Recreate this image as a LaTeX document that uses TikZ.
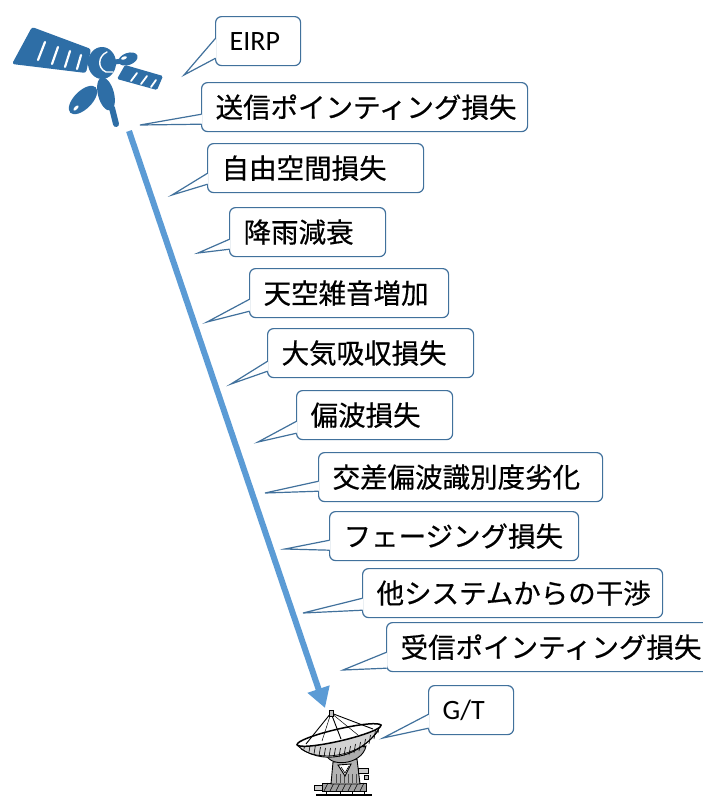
\documentclass[tikz,border=0pt]{standalone}
\usepackage{fontspec}
\setmainfont{Carlito}
\newfontfamily\jp{Noto Sans CJK JP}[FakeBold=0.5]
\usetikzlibrary{arrows.meta}
\definecolor{boxline}{RGB}{65,113,156}
\definecolor{linkblue}{RGB}{91,155,213}
\definecolor{satblue}{RGB}{46,110,166}
\tikzset{
  cbox/.style={draw=boxline, line width=1.2pt, rounded corners=6pt, fill=white,
    minimum height=49pt, inner xsep=14pt, inner ysep=0pt, align=left,
    font=\fontsize{28}{32}\selectfont},
  jbox/.style={cbox, font=\fontsize{27.5}{32}\selectfont\jp},
  ctail/.style={draw=boxline, line width=1.2pt, line join=miter},
  streak/.style={white, line width=2.2pt, line cap=round},
  dishline/.style={draw=black, line width=0.9pt},
}
% callout: style, name, left, top, right, text, tip, upper/lower attach heights above the bottom
\newcommand\callout[9]{%
  \pgfmathsetmacro\cbw{#5-#3-28}%
  \node[#1, text width=\cbw pt, anchor=north west] (#2) at (#3,#4) {#6};
  \coordinate (#2tip) at (#7);
  \fill[white] ([xshift=1.2pt,yshift=#8pt]#2.south west) -- (#2tip)
     -- ([xshift=1.2pt,yshift=#9pt]#2.south west) -- cycle;
  \draw[ctail] ([xshift=0.6pt,yshift=#8pt]#2.south west) -- (#2tip)
     -- ([xshift=0.6pt,yshift=#9pt]#2.south west);
}
\begin{document}
\begin{tikzpicture}[x=1pt,y=-1pt]
\clip (0,0) rectangle (703,798);
\fill[white] (0,0) rectangle (703,798);

% satellite
\begin{scope}[satblue]
  \fill[rounded corners=2.5pt] (32,27) -- (91,49) -- (86,73) -- (12,64) -- cycle;
  \draw[streak] (45,42) -- (38,60);
  \draw[streak] (58,47) -- (52,64);
  \draw[streak] (70,51) -- (65,67);
  \draw[streak] (81,55) -- (77,69);
  \fill[rounded corners=1.5pt] (125,65) -- (163,76) -- (157,90) -- (117,79) -- cycle;
  \draw[streak, line width=1.8pt] (131,81) -- (137,73);
  \draw[streak, line width=1.8pt] (141,84) -- (147,76);
  \draw[streak, line width=1.8pt] (151,87) -- (156,80);
  \draw[line width=5pt] (108,63) -- (122,61);
  \fill[rotate around={20:(128,59)}] (128,59) ellipse [x radius=10, y radius=6];
  \fill[white, rotate around={20:(124,58)}] (124,58) ellipse [x radius=3, y radius=1.5];
  \fill (102,63) ellipse [x radius=14, y radius=16];
  \draw[white, line width=1.4pt, line cap=round] (107,52) .. controls (98,56) and (97,68) .. (106,72) -- (113,72);
  \fill[rotate around={45:(83,100)}] (83,100) ellipse [x radius=18, y radius=9];
  \fill[white, rotate around={45:(76,108)}] (76,108) ellipse [x radius=3.5, y radius=1.5];
  \fill[rotate around={15:(106,94)}] (106,94) ellipse [x radius=8, y radius=17];
  \draw[line width=6pt, line cap=round] (112,108) -- (116,124);
\end{scope}

% receiving antenna
\begin{scope}
  % base frame
  \draw[black, line width=1.4pt] (316,795) -- (372,795);
  \filldraw[fill=gray!75, dishline] (322,783) rectangle (366,791);
  \foreach \x in {324,330,...,364} \draw[black, line width=0.6pt] (\x,791) -- (\x+4,783);
  \filldraw[fill=gray!40, dishline] (314,785) rectangle (322,790);
  \draw[dishline] (340,791) -- (340,795) (352,791) -- (352,795) (326,791) -- (326,795) (364,791) -- (364,795);
  % pedestal
  \filldraw[fill=gray!60, dishline] (333,762) -- (357,759) -- (360,784) -- (331,784) -- cycle;
  \foreach \x in {336,340,...,356} \draw[black!70, line width=0.5pt] (\x,774) -- (\x,783);
  \filldraw[fill=white, dishline] (338,765) -- (351,764) -- (345,776) -- cycle;
  \draw[black, line width=0.6pt] (341,767) -- (345,773) -- (349,766);
  \filldraw[fill=gray!40, dishline] (358,768) rectangle (368,773);
  \filldraw[fill=gray!50, dishline] (364,775) rectangle (368,779);
  % gearbox below the reflector
  \filldraw[fill=gray!65, dishline] (326,752) .. controls (326,768) and (362,766) .. (366,746) -- cycle;
  % reflector back with ribs
  \filldraw[fill=gray!35, dishline] (297,745) .. controls (318,766) and (362,760) .. (381,725) -- cycle;
  \foreach \a/\b in {304/749, 309/752, 314/754, 319/756, 324/757, 329/757, 334/757, 339/757,
                     344/756, 349/755, 354/753, 359/751, 364/748, 369/744, 374/739, 378/733}
    \draw[black, line width=0.6pt] (\a,\b) -- ++(1.5,-9);
  \draw[black, line width=0.7pt] (301,749) .. controls (320,762) and (360,757) .. (378,731);
  \filldraw[fill=white, draw=black, line width=1.5pt, rotate around={13:(339,735)}] (339,735) ellipse [x radius=43, y radius=6];
  % feed support
  \draw[dishline] (331,713) -- (306,744) (331,713) -- (341,739) (331,713) -- (373,729);
  \draw[black, line width=0.5pt] (331,713) -- (322,741) (331,713) -- (358,735);
  \filldraw[fill=gray!50, dishline] (329,710) rectangle (333,716);
\end{scope}

% signal path
\coordinate (sat) at (129,131);
\coordinate (gs) at (325,708);
\draw[linkblue, line width=6pt, -{Triangle[width=22pt,length=20pt]}] (sat) -- (gs);

% link budget terms
\callout{cbox}{eirp}{215}{16}{300}{EIRP}{184,75}{28}{8}
\callout{jbox}{txpt}{201}{82}{527}{送信ポインティング損失}{140,125}{18}{8}
\callout{jbox}{fspl}{207}{143}{423}{自由空間損失}{172,195}{20}{9}
\callout{jbox}{rain}{229}{207}{385}{降雨減衰}{198,253}{18}{8}
\callout{jbox}{sky}{249}{268}{448}{天空雑音増加}{207,322}{19}{7}
\callout{jbox}{atm}{267}{328}{473}{大気吸収損失}{231,384}{17}{7}
\callout{jbox}{pol}{296}{390}{452}{偏波損失}{258,442}{19}{7}
\callout{jbox}{xpd}{318}{452}{602}{交差偏波識別度劣化}{265,493}{21}{11}
\callout{jbox}{fade}{329}{511}{578}{フェージング損失}{285,549}{21}{11}
\callout{jbox}{intf}{362}{568}{662}{他システムからの干渉}{303,613}{20}{8}
\callout{jbox}{rxpt}{386}{622}{730}{受信ポインティング損失}{343,670}{20}{4}
\callout{cbox}{gt}{428}{685}{513}{G/T}{383,738}{21}{7}
\end{tikzpicture}
\end{document}
